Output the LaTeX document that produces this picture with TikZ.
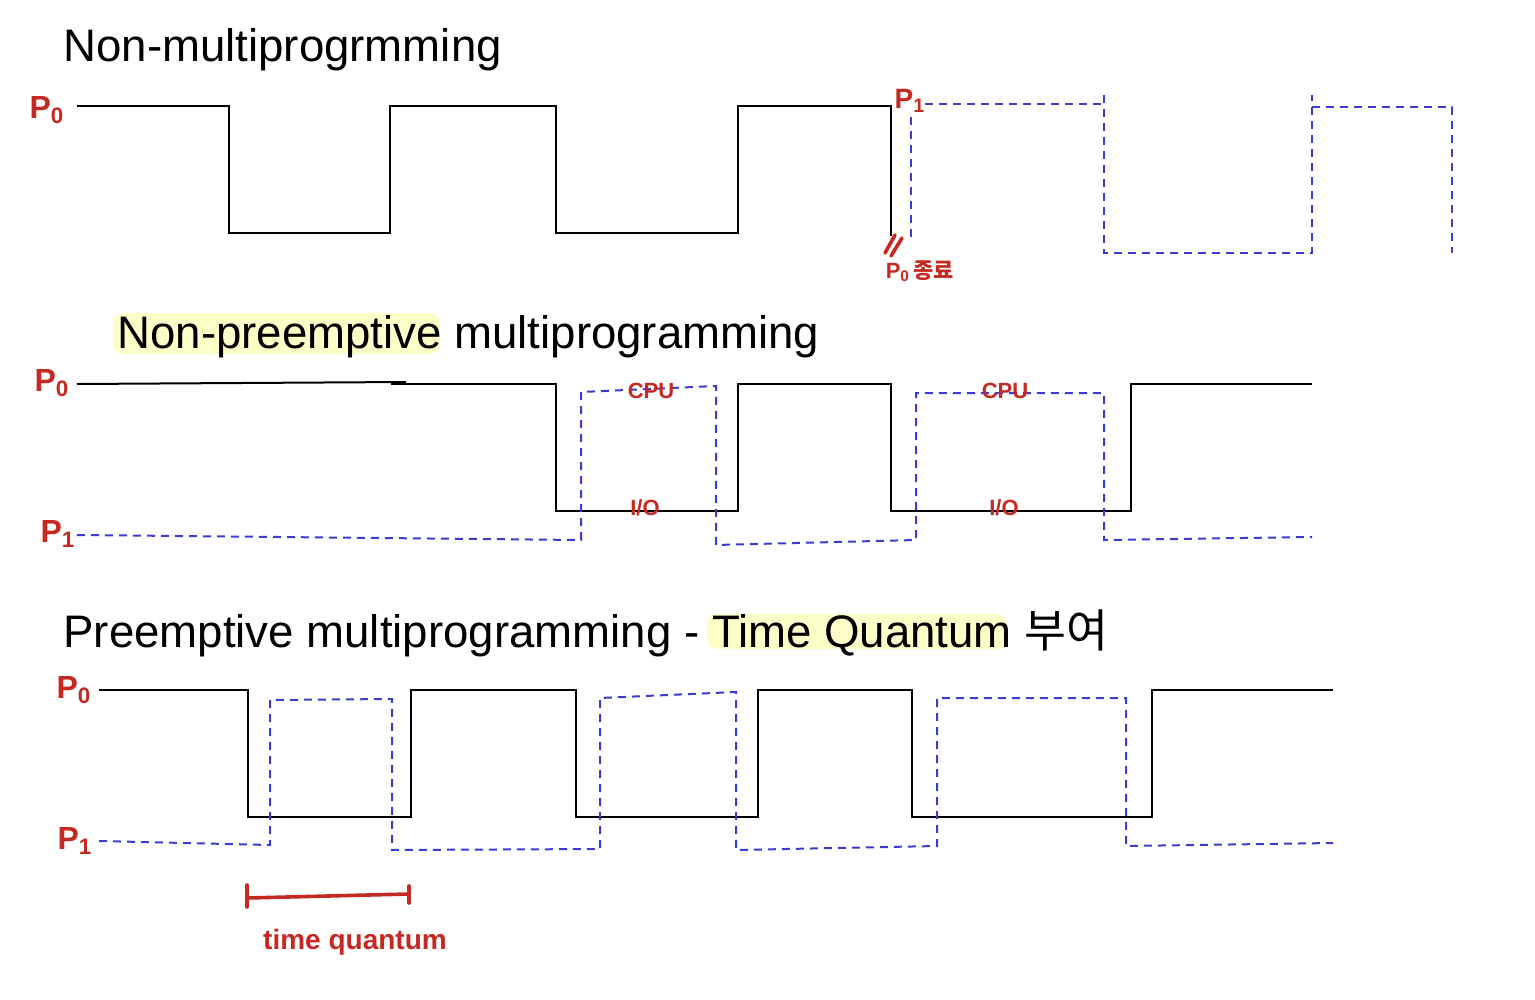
\documentclass[tikz,border=0pt]{standalone}
\usepackage{fontspec}
\setmainfont{Liberation Sans}
\newfontfamily\krfont{Noto Sans CJK KR}
\definecolor{hred}{HTML}{C42A22}
\definecolor{pblue}{HTML}{3C3CD2}
\definecolor{hlyellow}{HTML}{FDFDC8}
\begin{document}
\begin{tikzpicture}[x=0.5pt,y=-0.5pt,
  title/.style={font=\fontsize{22.8}{27}\selectfont, inner sep=0pt, anchor=base west},
  hand/.style={text=hred, font=\fontsize{14}{16}\selectfont\bfseries, inner sep=0pt},
  plabel/.style={hand, font=\fontsize{16}{18}\selectfont\bfseries},
  small hand/.style={hand, font=\fontsize{11}{13}\selectfont\bfseries},
  pzero/.style={black, line width=1pt, line join=miter},
  pone/.style={pblue, line width=1pt, dash pattern=on 4pt off 3pt},
  hlbox/.style={fill=hlyellow, draw=none, rounded corners=5pt},
  redmark/.style={hred, line width=1.8pt, line cap=round}]
\useasboundingbox[fill=white] (0,0) rectangle (1535,1000);

% ---------------- Section 1 ----------------
\node[title] (t1) at (63,62) {Non-multiprogrmming};
\node[plabel] (s1p0) at (47,110) {P\textsubscript{0}};
\draw[pzero] (77,106) -- (229,106) -- (229,233) -- (390,233) -- (390,106)
  -- (556,106) -- (556,233) -- (738,233) -- (738,106) -- (891,106) -- (891,236);
\node[plabel, font=\fontsize{14}{16}\selectfont\bfseries] (s1p1) at (910,101) {P\textsubscript{1}};
\draw[pone] (911,237) -- (911,112);
\draw[pone] (925,104) -- (1104,104);
\draw[pone] (1104,95) -- (1104,253) -- (1312,253) -- (1312,95);
\draw[pone] (1312,107) -- (1452,107) -- (1452,253);
\coordinate (m1a) at (885,253); \coordinate (m1b) at (895,235);
\coordinate (m2a) at (891,256); \coordinate (m2b) at (902,238);
\draw[redmark] (m1a) -- (m1b);
\draw[redmark] (m2a) -- (m2b);
\node[small hand] (end0) at (920,271) {P\textsubscript{0}\,{\krfont 종료}};

% ---------------- Section 2 ----------------
\fill[hlbox] (113,313) rectangle (440,354);
\node[title] (t2) at (117,348) {Non-preemptive multiprogramming};
\node[plabel] (s2p0) at (52,383) {P\textsubscript{0}};
\node[plabel] (s2p1) at (58,534) {P\textsubscript{1}};
\draw[pzero] (77,384) -- (406,382);
\draw[pzero] (391,384) -- (556,384) -- (556,511) -- (738,511) -- (738,384)
  -- (891,384) -- (891,511) -- (1131,511) -- (1131,384) -- (1312,384);
\draw[pone] (77,535) -- (581,540) -- (581,392) -- (716,386) -- (716,545)
  -- (916,540) -- (916,393) -- (1104,393) -- (1104,540) -- (1312,537);
\node[small hand] (cpu1) at (651,391) {CPU};
\node[small hand] (cpu2) at (1005,391) {CPU};
\node[small hand] (io1) at (645,508) {I/O};
\node[small hand] (io2) at (1004,508) {I/O};

% ---------------- Section 3 ----------------
\fill[hlbox] (707,614) rectangle (1006,649);
\node[title] (t3) at (63,647) {Preemptive multiprogramming - Time Quantum {\krfont 부여}};
\node[plabel] (s3p0) at (74,690) {P\textsubscript{0}};
\node[plabel] (s3p1) at (75,841) {P\textsubscript{1}};
\draw[pzero] (99,690) -- (248,690) -- (248,817) -- (411,817) -- (411,690)
  -- (576,690) -- (576,817) -- (758,817) -- (758,690) -- (912,690) -- (912,817)
  -- (1152,817) -- (1152,690) -- (1333,690);
\draw[pone] (99,841) -- (270,845) -- (270,700) -- (392,699) -- (392,850)
  -- (600,849) -- (600,698) -- (736,692) -- (736,850) -- (937,846) -- (937,698)
  -- (1126,698) -- (1126,846) -- (1333,843);

% time quantum bracket
\coordinate (tqa) at (247,898); \coordinate (tqb) at (409,894);
\draw[redmark] (tqa) -- (tqb);
\draw[redmark] (247,885) -- (247,907);
\draw[redmark] (409,886) -- (409,903);
\node[hand] (tq) at (355,942) {time quantum};
\end{tikzpicture}
\end{document}
